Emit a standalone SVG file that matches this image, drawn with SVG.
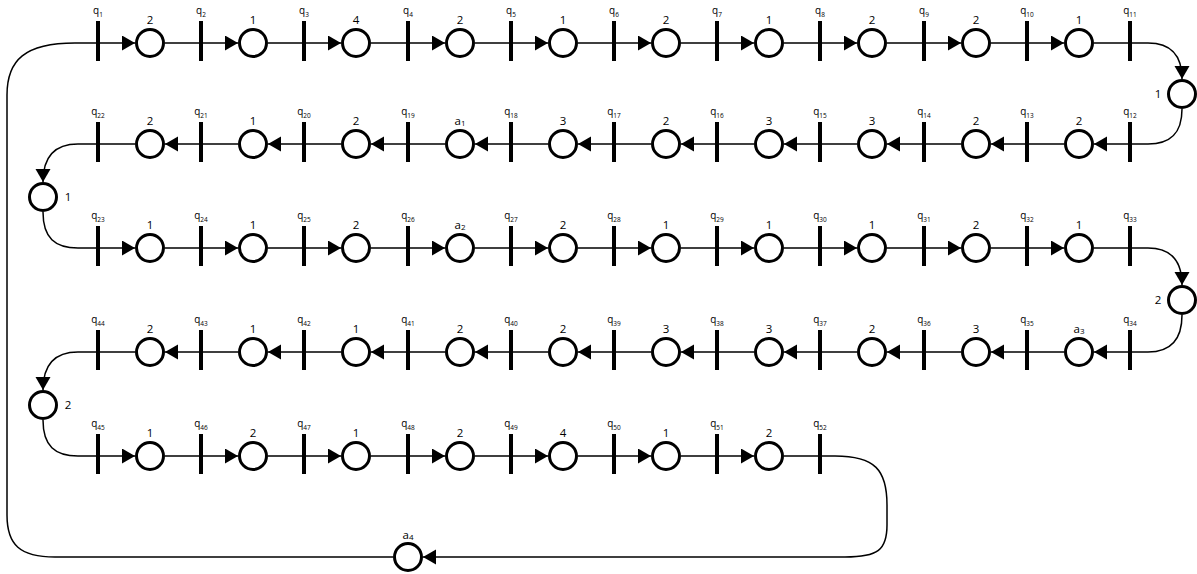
<svg xmlns="http://www.w3.org/2000/svg" xmlns:xlink="http://www.w3.org/1999/xlink" width="1197" height="574" viewBox="0 0 1197 574">
  <style>
    text { font-family: "Open Sans", "Liberation Sans", sans-serif; fill: #000; }
    .ql { font-size: 10px; text-anchor: middle; }
    .ql .sub { font-size: 6.5px; }
    .pl { font-size: 11.5px; text-anchor: middle; }
    .pl .sub { font-size: 8px; }
    .place circle { fill: #fff; stroke: #000; stroke-width: 3; }
    .arc { fill: none; stroke: #000; stroke-width: 1.5; }
    .arrow { marker-end: url(#head); }
  </style>
  <defs>
    <!-- transition bar, drawn around the row line -->
    <rect id="bar" x="-2" y="-22" width="4" height="40" fill="#000"/>
    <!-- filled arrowhead; tip sits on the place outline -->
    <marker id="head" markerUnits="userSpaceOnUse" markerWidth="14" markerHeight="16" refX="13" refY="7.5" orient="auto">
      <path d="M0,0 L13,7.5 L0,15 Z" fill="#000"/>
    </marker>
  </defs>
  <rect width="1197" height="574" fill="#fff"/>

  <!-- arcs -->
  <g id="connectors">
    <!-- row 1: left to right -->
    <path class="arc" d="M165,43 H201 M268,43 H304 M371,43 H408 M475,43 H511 M578,43 H614 M681,43 H717 M784,43 H820 M887,43 H924 M991,43 H1027 M1094,43 H1130"/>
    <path class="arc arrow" d="M98,43 H135"/>
    <path class="arc arrow" d="M201,43 H238"/>
    <path class="arc arrow" d="M304,43 H341"/>
    <path class="arc arrow" d="M408,43 H445"/>
    <path class="arc arrow" d="M511,43 H548"/>
    <path class="arc arrow" d="M614,43 H651"/>
    <path class="arc arrow" d="M717,43 H754"/>
    <path class="arc arrow" d="M820,43 H857"/>
    <path class="arc arrow" d="M924,43 H961"/>
    <path class="arc arrow" d="M1027,43 H1064"/>
    <!-- turn to row 2 -->
    <path class="arc arrow" d="M1130,43 H1148 C1170,43 1182,55 1182,79"/>
    <path class="arc" d="M1182,109 C1182,134 1170,144 1148,144 H1130"/>
    <!-- row 2: right to left -->
    <path class="arc" d="M1064,144 H1027 M961,144 H924 M857,144 H820 M754,144 H717 M651,144 H614 M548,144 H511 M445,144 H408 M341,144 H304 M238,144 H201 M135,144 H98"/>
    <path class="arc arrow" d="M1130,144 H1094"/>
    <path class="arc arrow" d="M1027,144 H991"/>
    <path class="arc arrow" d="M924,144 H887"/>
    <path class="arc arrow" d="M820,144 H784"/>
    <path class="arc arrow" d="M717,144 H681"/>
    <path class="arc arrow" d="M614,144 H578"/>
    <path class="arc arrow" d="M511,144 H475"/>
    <path class="arc arrow" d="M408,144 H371"/>
    <path class="arc arrow" d="M304,144 H268"/>
    <path class="arc arrow" d="M201,144 H165"/>
    <!-- turn to row 3 -->
    <path class="arc arrow" d="M98,144 H78 C55,144 43,156 43,182"/>
    <path class="arc" d="M43,212 C43,238 55,248 78,248 H98"/>
    <!-- row 3: left to right -->
    <path class="arc" d="M165,248 H201 M268,248 H304 M371,248 H408 M475,248 H511 M578,248 H614 M681,248 H717 M784,248 H820 M887,248 H924 M991,248 H1027 M1094,248 H1130"/>
    <path class="arc arrow" d="M98,248 H135"/>
    <path class="arc arrow" d="M201,248 H238"/>
    <path class="arc arrow" d="M304,248 H341"/>
    <path class="arc arrow" d="M408,248 H445"/>
    <path class="arc arrow" d="M511,248 H548"/>
    <path class="arc arrow" d="M614,248 H651"/>
    <path class="arc arrow" d="M717,248 H754"/>
    <path class="arc arrow" d="M820,248 H857"/>
    <path class="arc arrow" d="M924,248 H961"/>
    <path class="arc arrow" d="M1027,248 H1064"/>
    <!-- turn to row 4 -->
    <path class="arc arrow" d="M1130,248 H1148 C1170,248 1182,260 1182,285"/>
    <path class="arc" d="M1182,315 C1182,341 1170,352 1148,352 H1130"/>
    <!-- row 4: right to left -->
    <path class="arc" d="M1064,352 H1027 M961,352 H924 M857,352 H820 M754,352 H717 M651,352 H614 M548,352 H511 M445,352 H408 M341,352 H304 M238,352 H201 M135,352 H98"/>
    <path class="arc arrow" d="M1130,352 H1094"/>
    <path class="arc arrow" d="M1027,352 H991"/>
    <path class="arc arrow" d="M924,352 H887"/>
    <path class="arc arrow" d="M820,352 H784"/>
    <path class="arc arrow" d="M717,352 H681"/>
    <path class="arc arrow" d="M614,352 H578"/>
    <path class="arc arrow" d="M511,352 H475"/>
    <path class="arc arrow" d="M408,352 H371"/>
    <path class="arc arrow" d="M304,352 H268"/>
    <path class="arc arrow" d="M201,352 H165"/>
    <!-- turn to row 5 -->
    <path class="arc arrow" d="M98,352 H78 C55,352 43,364 43,390"/>
    <path class="arc" d="M43,420 C43,446 55,456 78,456 H98"/>
    <!-- row 5: left to right -->
    <path class="arc" d="M165,456 H201 M268,456 H304 M371,456 H408 M475,456 H511 M578,456 H614 M681,456 H717 M784,456 H820"/>
    <path class="arc arrow" d="M98,456 H135"/>
    <path class="arc arrow" d="M201,456 H238"/>
    <path class="arc arrow" d="M304,456 H341"/>
    <path class="arc arrow" d="M408,456 H445"/>
    <path class="arc arrow" d="M511,456 H548"/>
    <path class="arc arrow" d="M614,456 H651"/>
    <path class="arc arrow" d="M717,456 H754"/>
    <!-- return loop -->
    <path class="arc arrow" d="M820,456 H835 C875,456 887,470 887,505 V525 C887,550 878,557 845,557 H423"/>
    <path class="arc" d="M393,557 H55 C20,557 7,545 7,515 V95 C7,60 25,43 75,43 H98"/>
  </g>

  <!-- row 1 transitions -->
  <g id="q1"><use xlink:href="#bar" x="98" y="43"/><text class="ql" x="98" y="14">q<tspan class="sub" dy="2.5">1</tspan></text></g>
  <g id="q2"><use xlink:href="#bar" x="201" y="43"/><text class="ql" x="201" y="14">q<tspan class="sub" dy="2.5">2</tspan></text></g>
  <g id="q3"><use xlink:href="#bar" x="304" y="43"/><text class="ql" x="304" y="14">q<tspan class="sub" dy="2.5">3</tspan></text></g>
  <g id="q4"><use xlink:href="#bar" x="408" y="43"/><text class="ql" x="408" y="14">q<tspan class="sub" dy="2.5">4</tspan></text></g>
  <g id="q5"><use xlink:href="#bar" x="511" y="43"/><text class="ql" x="511" y="14">q<tspan class="sub" dy="2.5">5</tspan></text></g>
  <g id="q6"><use xlink:href="#bar" x="614" y="43"/><text class="ql" x="614" y="14">q<tspan class="sub" dy="2.5">6</tspan></text></g>
  <g id="q7"><use xlink:href="#bar" x="717" y="43"/><text class="ql" x="717" y="14">q<tspan class="sub" dy="2.5">7</tspan></text></g>
  <g id="q8"><use xlink:href="#bar" x="820" y="43"/><text class="ql" x="820" y="14">q<tspan class="sub" dy="2.5">8</tspan></text></g>
  <g id="q9"><use xlink:href="#bar" x="924" y="43"/><text class="ql" x="924" y="14">q<tspan class="sub" dy="2.5">9</tspan></text></g>
  <g id="q10"><use xlink:href="#bar" x="1027" y="43"/><text class="ql" x="1027" y="14">q<tspan class="sub" dy="2.5">10</tspan></text></g>
  <g id="q11"><use xlink:href="#bar" x="1130" y="43"/><text class="ql" x="1130" y="14">q<tspan class="sub" dy="2.5">11</tspan></text></g>

  <!-- row 1 places -->
  <g id="p1" class="place"><circle cx="150" cy="43" r="13.5"/><text class="pl" x="150" y="24">2</text></g>
  <g id="p2" class="place"><circle cx="253" cy="43" r="13.5"/><text class="pl" x="253" y="24">1</text></g>
  <g id="p3" class="place"><circle cx="356" cy="43" r="13.5"/><text class="pl" x="356" y="24">4</text></g>
  <g id="p4" class="place"><circle cx="460" cy="43" r="13.5"/><text class="pl" x="460" y="24">2</text></g>
  <g id="p5" class="place"><circle cx="563" cy="43" r="13.5"/><text class="pl" x="563" y="24">1</text></g>
  <g id="p6" class="place"><circle cx="666" cy="43" r="13.5"/><text class="pl" x="666" y="24">2</text></g>
  <g id="p7" class="place"><circle cx="769" cy="43" r="13.5"/><text class="pl" x="769" y="24">1</text></g>
  <g id="p8" class="place"><circle cx="872" cy="43" r="13.5"/><text class="pl" x="872" y="24">2</text></g>
  <g id="p9" class="place"><circle cx="976" cy="43" r="13.5"/><text class="pl" x="976" y="24">2</text></g>
  <g id="p10" class="place"><circle cx="1079" cy="43" r="13.5"/><text class="pl" x="1079" y="24">1</text></g>
  <g id="p11" class="place"><circle cx="1182" cy="94" r="13.5"/><text class="pl" x="1158" y="98">1</text></g>

  <!-- row 2 transitions -->
  <g id="q12"><use xlink:href="#bar" x="1130" y="144"/><text class="ql" x="1130" y="115">q<tspan class="sub" dy="2.5">12</tspan></text></g>
  <g id="q13"><use xlink:href="#bar" x="1027" y="144"/><text class="ql" x="1027" y="115">q<tspan class="sub" dy="2.5">13</tspan></text></g>
  <g id="q14"><use xlink:href="#bar" x="924" y="144"/><text class="ql" x="924" y="115">q<tspan class="sub" dy="2.5">14</tspan></text></g>
  <g id="q15"><use xlink:href="#bar" x="820" y="144"/><text class="ql" x="820" y="115">q<tspan class="sub" dy="2.5">15</tspan></text></g>
  <g id="q16"><use xlink:href="#bar" x="717" y="144"/><text class="ql" x="717" y="115">q<tspan class="sub" dy="2.5">16</tspan></text></g>
  <g id="q17"><use xlink:href="#bar" x="614" y="144"/><text class="ql" x="614" y="115">q<tspan class="sub" dy="2.5">17</tspan></text></g>
  <g id="q18"><use xlink:href="#bar" x="511" y="144"/><text class="ql" x="511" y="115">q<tspan class="sub" dy="2.5">18</tspan></text></g>
  <g id="q19"><use xlink:href="#bar" x="408" y="144"/><text class="ql" x="408" y="115">q<tspan class="sub" dy="2.5">19</tspan></text></g>
  <g id="q20"><use xlink:href="#bar" x="304" y="144"/><text class="ql" x="304" y="115">q<tspan class="sub" dy="2.5">20</tspan></text></g>
  <g id="q21"><use xlink:href="#bar" x="201" y="144"/><text class="ql" x="201" y="115">q<tspan class="sub" dy="2.5">21</tspan></text></g>
  <g id="q22"><use xlink:href="#bar" x="98" y="144"/><text class="ql" x="98" y="115">q<tspan class="sub" dy="2.5">22</tspan></text></g>

  <!-- row 2 places -->
  <g id="p12" class="place"><circle cx="1079" cy="144" r="13.5"/><text class="pl" x="1079" y="125">2</text></g>
  <g id="p13" class="place"><circle cx="976" cy="144" r="13.5"/><text class="pl" x="976" y="125">2</text></g>
  <g id="p14" class="place"><circle cx="872" cy="144" r="13.5"/><text class="pl" x="872" y="125">3</text></g>
  <g id="p15" class="place"><circle cx="769" cy="144" r="13.5"/><text class="pl" x="769" y="125">3</text></g>
  <g id="p16" class="place"><circle cx="666" cy="144" r="13.5"/><text class="pl" x="666" y="125">2</text></g>
  <g id="p17" class="place"><circle cx="563" cy="144" r="13.5"/><text class="pl" x="563" y="125">3</text></g>
  <g id="p18" class="place"><circle cx="460" cy="144" r="13.5"/><text class="pl" x="460" y="125">a<tspan class="sub" dy="1">1</tspan></text></g>
  <g id="p19" class="place"><circle cx="356" cy="144" r="13.5"/><text class="pl" x="356" y="125">2</text></g>
  <g id="p20" class="place"><circle cx="253" cy="144" r="13.5"/><text class="pl" x="253" y="125">1</text></g>
  <g id="p21" class="place"><circle cx="150" cy="144" r="13.5"/><text class="pl" x="150" y="125">2</text></g>
  <g id="p22" class="place"><circle cx="43" cy="197" r="13.5"/><text class="pl" x="68" y="201">1</text></g>

  <!-- row 3 transitions -->
  <g id="q23"><use xlink:href="#bar" x="98" y="248"/><text class="ql" x="98" y="219">q<tspan class="sub" dy="2.5">23</tspan></text></g>
  <g id="q24"><use xlink:href="#bar" x="201" y="248"/><text class="ql" x="201" y="219">q<tspan class="sub" dy="2.5">24</tspan></text></g>
  <g id="q25"><use xlink:href="#bar" x="304" y="248"/><text class="ql" x="304" y="219">q<tspan class="sub" dy="2.5">25</tspan></text></g>
  <g id="q26"><use xlink:href="#bar" x="408" y="248"/><text class="ql" x="408" y="219">q<tspan class="sub" dy="2.5">26</tspan></text></g>
  <g id="q27"><use xlink:href="#bar" x="511" y="248"/><text class="ql" x="511" y="219">q<tspan class="sub" dy="2.5">27</tspan></text></g>
  <g id="q28"><use xlink:href="#bar" x="614" y="248"/><text class="ql" x="614" y="219">q<tspan class="sub" dy="2.5">28</tspan></text></g>
  <g id="q29"><use xlink:href="#bar" x="717" y="248"/><text class="ql" x="717" y="219">q<tspan class="sub" dy="2.5">29</tspan></text></g>
  <g id="q30"><use xlink:href="#bar" x="820" y="248"/><text class="ql" x="820" y="219">q<tspan class="sub" dy="2.5">30</tspan></text></g>
  <g id="q31"><use xlink:href="#bar" x="924" y="248"/><text class="ql" x="924" y="219">q<tspan class="sub" dy="2.5">31</tspan></text></g>
  <g id="q32"><use xlink:href="#bar" x="1027" y="248"/><text class="ql" x="1027" y="219">q<tspan class="sub" dy="2.5">32</tspan></text></g>
  <g id="q33"><use xlink:href="#bar" x="1130" y="248"/><text class="ql" x="1130" y="219">q<tspan class="sub" dy="2.5">33</tspan></text></g>

  <!-- row 3 places -->
  <g id="p23" class="place"><circle cx="150" cy="248" r="13.5"/><text class="pl" x="150" y="229">1</text></g>
  <g id="p24" class="place"><circle cx="253" cy="248" r="13.5"/><text class="pl" x="253" y="229">1</text></g>
  <g id="p25" class="place"><circle cx="356" cy="248" r="13.5"/><text class="pl" x="356" y="229">2</text></g>
  <g id="p26" class="place"><circle cx="460" cy="248" r="13.5"/><text class="pl" x="460" y="229">a<tspan class="sub" dy="1">2</tspan></text></g>
  <g id="p27" class="place"><circle cx="563" cy="248" r="13.5"/><text class="pl" x="563" y="229">2</text></g>
  <g id="p28" class="place"><circle cx="666" cy="248" r="13.5"/><text class="pl" x="666" y="229">1</text></g>
  <g id="p29" class="place"><circle cx="769" cy="248" r="13.5"/><text class="pl" x="769" y="229">1</text></g>
  <g id="p30" class="place"><circle cx="872" cy="248" r="13.5"/><text class="pl" x="872" y="229">1</text></g>
  <g id="p31" class="place"><circle cx="976" cy="248" r="13.5"/><text class="pl" x="976" y="229">2</text></g>
  <g id="p32" class="place"><circle cx="1079" cy="248" r="13.5"/><text class="pl" x="1079" y="229">1</text></g>
  <g id="p33" class="place"><circle cx="1182" cy="300" r="13.5"/><text class="pl" x="1158" y="304">2</text></g>

  <!-- row 4 transitions -->
  <g id="q34"><use xlink:href="#bar" x="1130" y="352"/><text class="ql" x="1130" y="323">q<tspan class="sub" dy="2.5">34</tspan></text></g>
  <g id="q35"><use xlink:href="#bar" x="1027" y="352"/><text class="ql" x="1027" y="323">q<tspan class="sub" dy="2.5">35</tspan></text></g>
  <g id="q36"><use xlink:href="#bar" x="924" y="352"/><text class="ql" x="924" y="323">q<tspan class="sub" dy="2.5">36</tspan></text></g>
  <g id="q37"><use xlink:href="#bar" x="820" y="352"/><text class="ql" x="820" y="323">q<tspan class="sub" dy="2.5">37</tspan></text></g>
  <g id="q38"><use xlink:href="#bar" x="717" y="352"/><text class="ql" x="717" y="323">q<tspan class="sub" dy="2.5">38</tspan></text></g>
  <g id="q39"><use xlink:href="#bar" x="614" y="352"/><text class="ql" x="614" y="323">q<tspan class="sub" dy="2.5">39</tspan></text></g>
  <g id="q40"><use xlink:href="#bar" x="511" y="352"/><text class="ql" x="511" y="323">q<tspan class="sub" dy="2.5">40</tspan></text></g>
  <g id="q41"><use xlink:href="#bar" x="408" y="352"/><text class="ql" x="408" y="323">q<tspan class="sub" dy="2.5">41</tspan></text></g>
  <g id="q42"><use xlink:href="#bar" x="304" y="352"/><text class="ql" x="304" y="323">q<tspan class="sub" dy="2.5">42</tspan></text></g>
  <g id="q43"><use xlink:href="#bar" x="201" y="352"/><text class="ql" x="201" y="323">q<tspan class="sub" dy="2.5">43</tspan></text></g>
  <g id="q44"><use xlink:href="#bar" x="98" y="352"/><text class="ql" x="98" y="323">q<tspan class="sub" dy="2.5">44</tspan></text></g>

  <!-- row 4 places -->
  <g id="p34" class="place"><circle cx="1079" cy="352" r="13.5"/><text class="pl" x="1079" y="333">a<tspan class="sub" dy="1">3</tspan></text></g>
  <g id="p35" class="place"><circle cx="976" cy="352" r="13.5"/><text class="pl" x="976" y="333">3</text></g>
  <g id="p36" class="place"><circle cx="872" cy="352" r="13.5"/><text class="pl" x="872" y="333">2</text></g>
  <g id="p37" class="place"><circle cx="769" cy="352" r="13.5"/><text class="pl" x="769" y="333">3</text></g>
  <g id="p38" class="place"><circle cx="666" cy="352" r="13.5"/><text class="pl" x="666" y="333">3</text></g>
  <g id="p39" class="place"><circle cx="563" cy="352" r="13.5"/><text class="pl" x="563" y="333">2</text></g>
  <g id="p40" class="place"><circle cx="460" cy="352" r="13.5"/><text class="pl" x="460" y="333">2</text></g>
  <g id="p41" class="place"><circle cx="356" cy="352" r="13.5"/><text class="pl" x="356" y="333">1</text></g>
  <g id="p42" class="place"><circle cx="253" cy="352" r="13.5"/><text class="pl" x="253" y="333">1</text></g>
  <g id="p43" class="place"><circle cx="150" cy="352" r="13.5"/><text class="pl" x="150" y="333">2</text></g>
  <g id="p44" class="place"><circle cx="43" cy="405" r="13.5"/><text class="pl" x="68" y="409">2</text></g>

  <!-- row 5 transitions -->
  <g id="q45"><use xlink:href="#bar" x="98" y="456"/><text class="ql" x="98" y="427">q<tspan class="sub" dy="2.5">45</tspan></text></g>
  <g id="q46"><use xlink:href="#bar" x="201" y="456"/><text class="ql" x="201" y="427">q<tspan class="sub" dy="2.5">46</tspan></text></g>
  <g id="q47"><use xlink:href="#bar" x="304" y="456"/><text class="ql" x="304" y="427">q<tspan class="sub" dy="2.5">47</tspan></text></g>
  <g id="q48"><use xlink:href="#bar" x="408" y="456"/><text class="ql" x="408" y="427">q<tspan class="sub" dy="2.5">48</tspan></text></g>
  <g id="q49"><use xlink:href="#bar" x="511" y="456"/><text class="ql" x="511" y="427">q<tspan class="sub" dy="2.5">49</tspan></text></g>
  <g id="q50"><use xlink:href="#bar" x="614" y="456"/><text class="ql" x="614" y="427">q<tspan class="sub" dy="2.5">50</tspan></text></g>
  <g id="q51"><use xlink:href="#bar" x="717" y="456"/><text class="ql" x="717" y="427">q<tspan class="sub" dy="2.5">51</tspan></text></g>
  <g id="q52"><use xlink:href="#bar" x="820" y="456"/><text class="ql" x="820" y="427">q<tspan class="sub" dy="2.5">52</tspan></text></g>

  <!-- row 5 places -->
  <g id="p45" class="place"><circle cx="150" cy="456" r="13.5"/><text class="pl" x="150" y="437">1</text></g>
  <g id="p46" class="place"><circle cx="253" cy="456" r="13.5"/><text class="pl" x="253" y="437">2</text></g>
  <g id="p47" class="place"><circle cx="356" cy="456" r="13.5"/><text class="pl" x="356" y="437">1</text></g>
  <g id="p48" class="place"><circle cx="460" cy="456" r="13.5"/><text class="pl" x="460" y="437">2</text></g>
  <g id="p49" class="place"><circle cx="563" cy="456" r="13.5"/><text class="pl" x="563" y="437">4</text></g>
  <g id="p50" class="place"><circle cx="666" cy="456" r="13.5"/><text class="pl" x="666" y="437">1</text></g>
  <g id="p51" class="place"><circle cx="769" cy="456" r="13.5"/><text class="pl" x="769" y="437">2</text></g>

  <!-- return place -->
  <g id="p52" class="place"><circle cx="408" cy="557" r="13.5"/><text class="pl" x="408" y="539">a<tspan class="sub" dy="1">4</tspan></text></g>
</svg>
